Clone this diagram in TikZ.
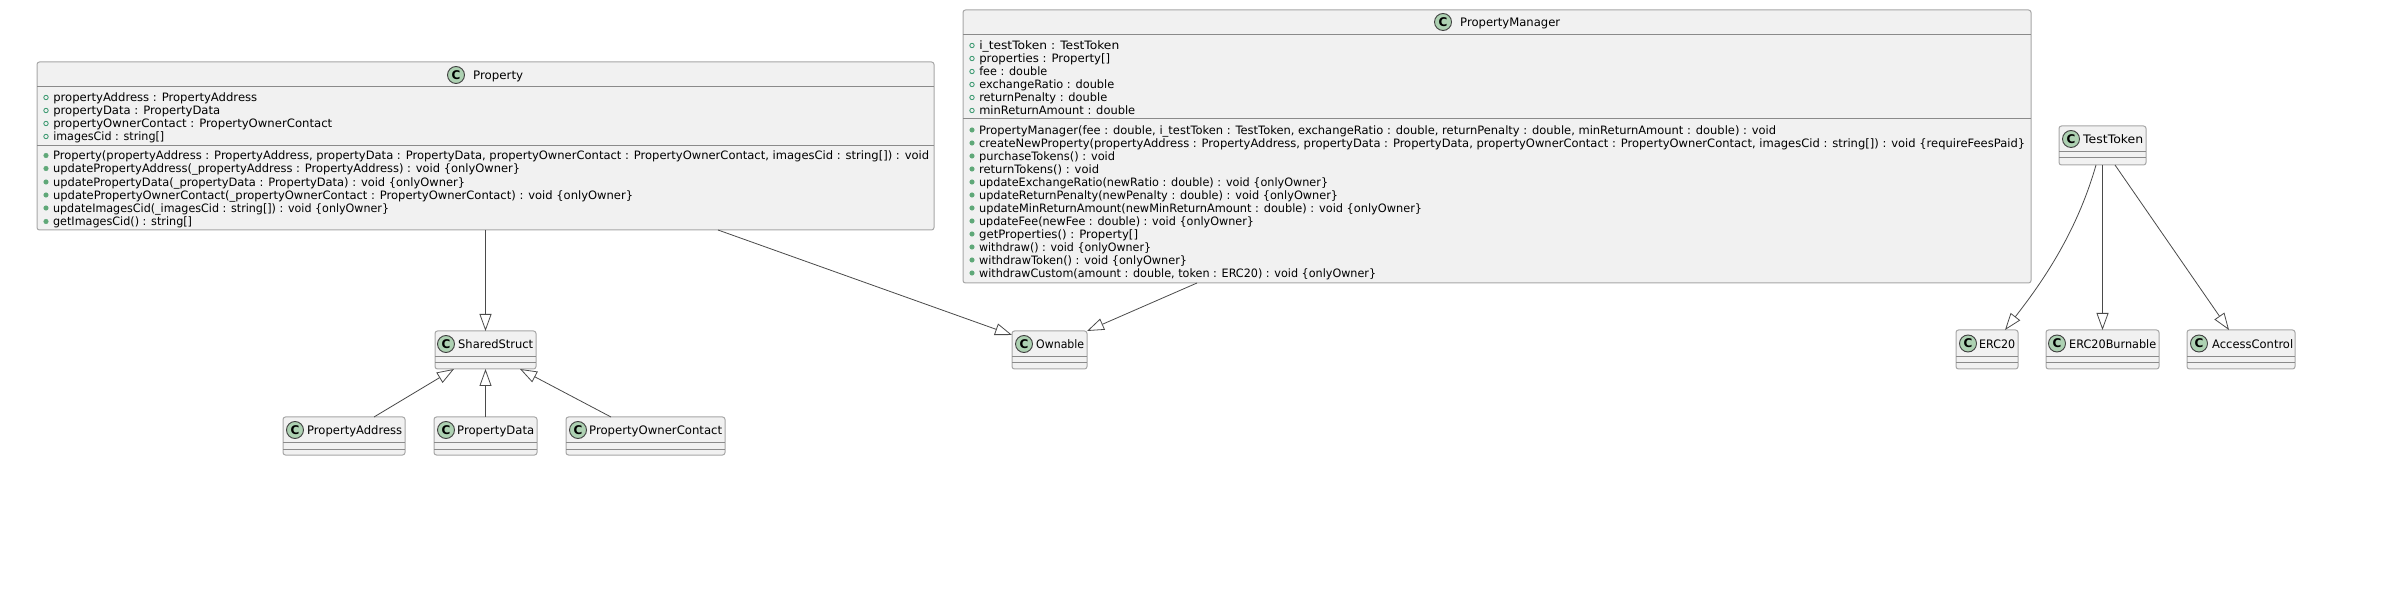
\documentclass[tikz,border=0pt]{standalone}
\usepackage{graphicx}
\usepackage{fontspec}
\setmainfont{DejaVu Sans}
\usetikzlibrary{arrows.meta}
\definecolor{boxfill}{HTML}{F1F1F1}
\definecolor{boxedge}{HTML}{A6A6A6}
\definecolor{sepedge}{HTML}{8A8A8A}
\definecolor{linkedge}{HTML}{4A4A4A}
\definecolor{iconfill}{HTML}{ADD1B2}
\definecolor{attrgreen}{HTML}{3E9A72}
\definecolor{opgreen}{HTML}{5FA878}
\newcommand\fitrow[2]{\resizebox{#1pt}{\height}{#2}}
\tikzset{
  classbox/.style={draw=boxedge, fill=boxfill, line width=1pt, rounded corners=2.5pt, inner sep=0pt, outer sep=0pt},
  sepline/.style={draw=sepedge, line width=1pt},
  classicon/.style={circle, draw=black!75, fill=iconfill, line width=0.9pt, minimum size=17pt, inner sep=0pt, font=\fontsize{12}{12}\selectfont\bfseries},
  classname/.style={anchor=base west, inner sep=0pt, yshift=-0.7pt, font=\fontsize{11.7}{13}\selectfont},
  member/.style={anchor=base west, inner sep=0pt, xshift=6.8pt, yshift=-4.2pt, font=\fontsize{11.55}{13}\selectfont},
  attrdot/.style={draw=attrgreen, line width=0.9pt, fill=none},
  opdot/.style={draw=opgreen, fill=opgreen, line width=0.6pt},
  inherit/.style={draw=linkedge, line width=0.8pt, -{Triangle[open, length=17pt, width=12pt]}},
}

\begin{document}
\begin{tikzpicture}[x=1pt, y=-1pt]
\useasboundingbox (0,0) rectangle (2394,593);
% boxes
\node[classbox, minimum width=897pt, minimum height=168pt] (Property) at (485.5,146) {};
\node[classbox, minimum width=1068pt, minimum height=273pt] (PropertyManager) at (1497,146.5) {};
\node[classbox, minimum width=87pt, minimum height=39pt] (TestToken) at (2102.5,145.5) {};
\node[classbox, minimum width=101pt, minimum height=38pt] (SharedStruct) at (485.5,350) {};
\node[classbox, minimum width=75pt, minimum height=38pt] (Ownable) at (1049.5,350) {};
\node[classbox, minimum width=62pt, minimum height=39pt] (ERC20) at (1987,349.5) {};
\node[classbox, minimum width=113pt, minimum height=39pt] (ERC20Burnable) at (2102.5,349.5) {};
\node[classbox, minimum width=108pt, minimum height=39pt] (AccessControl) at (2241,349.5) {};
\node[classbox, minimum width=122pt, minimum height=38pt] (PropertyAddress) at (344,436) {};
\node[classbox, minimum width=103pt, minimum height=38pt] (PropertyData) at (485.5,436) {};
\node[classbox, minimum width=159pt, minimum height=38pt] (PropertyOwnerContact) at (645.5,436) {};
% compartment lines
\draw[sepline] (37,87) -- (934,87);
\draw[sepline] (37,146) -- (934,146);
\draw[sepline] (963,35) -- (2031,35);
\draw[sepline] (963,119) -- (2031,119);
\draw[sepline] (2059,152) -- (2146,152);
\draw[sepline] (2059,158) -- (2146,158);
\draw[sepline] (435,357) -- (536,357);
\draw[sepline] (435,362.5) -- (536,362.5);
\draw[sepline] (1012,357) -- (1087,357);
\draw[sepline] (1012,362.5) -- (1087,362.5);
\draw[sepline] (1956,357) -- (2018,357);
\draw[sepline] (1956,362.5) -- (2018,362.5);
\draw[sepline] (2046,357) -- (2159,357);
\draw[sepline] (2046,362.5) -- (2159,362.5);
\draw[sepline] (2187,357) -- (2295,357);
\draw[sepline] (2187,362.5) -- (2295,362.5);
\draw[sepline] (283,443) -- (405,443);
\draw[sepline] (283,449) -- (405,449);
\draw[sepline] (434,443) -- (537,443);
\draw[sepline] (434,449) -- (537,449);
\draw[sepline] (566,443) -- (725,443);
\draw[sepline] (566,449) -- (725,449);
% class titles
\node[classicon] (iconProperty) at (456,75) {C};
\node[classname] (nameProperty) at (473,79) {\fitrow{50}{Property}};
\node[classicon] (iconManager) at (1443,22) {C};
\node[classname] (nameManager) at (1460,26) {\fitrow{100}{PropertyManager}};
\node[classicon] (iconToken) at (2071,139) {C};
\node[classname] (nameToken) at (2083,143) {\fitrow{60}{TestToken}};
\node[classicon] (iconShared) at (446,344) {C};
\node[classname] (nameShared) at (458,348) {\fitrow{75}{SharedStruct}};
\node[classicon] (iconOwnable) at (1024,344) {C};
\node[classname] (nameOwnable) at (1036,348) {\fitrow{48}{Ownable}};
\node[classicon] (iconERC) at (1968,343.5) {C};
\node[classname] (nameERC) at (1979,347.5) {\fitrow{36}{ERC20}};
\node[classicon] (iconBurnable) at (2057,343.5) {C};
\node[classname] (nameBurnable) at (2069,347.5) {\fitrow{87}{ERC20Burnable}};
\node[classicon] (iconAccess) at (2199,343.5) {C};
\node[classname] (nameAccess) at (2212,347.5) {\fitrow{81}{AccessControl}};
\node[classicon] (iconAddress) at (295,430) {C};
\node[classname] (nameAddress) at (307,434) {\fitrow{95}{PropertyAddress}};
\node[classicon] (iconData) at (446,430) {C};
\node[classname] (nameData) at (457,434) {\fitrow{77}{PropertyData}};
\node[classicon] (iconContact) at (578,430) {C};
\node[classname] (nameContact) at (589,434) {\fitrow{133}{PropertyOwnerContact}};
% Property members
\filldraw[attrdot] (46,97.5) circle (2.2) node[member] (pa1) {\fitrow{204}{propertyAddress : PropertyAddress}};
\filldraw[attrdot] (46,110.5) circle (2.2) node[member] (pa2) {\fitrow{167}{propertyData : PropertyData}};
\filldraw[attrdot] (46,123.5) circle (2.2) node[member] (pa3) {\fitrow{279}{propertyOwnerContact : PropertyOwnerContact}};
\filldraw[attrdot] (46,136.5) circle (2.2) node[member] (pa4) {\fitrow{111}{imagesCid : string[]}};
\filldraw[opdot] (46,155.5) circle (2.2) node[member] (po1) {\fitrow{876}{Property(propertyAddress : PropertyAddress, propertyData : PropertyData, propertyOwnerContact : PropertyOwnerContact, imagesCid : string[]) : void}};
\filldraw[opdot] (46,168.5) circle (2.2) node[member] (po2) {\fitrow{467}{updatePropertyAddress(\_propertyAddress : PropertyAddress) : void \{onlyOwner\}}};
\filldraw[opdot] (46,182) circle (2.2) node[member] (po3) {\fitrow{412}{updatePropertyData(\_propertyData : PropertyData) : void \{onlyOwner\}}};
\filldraw[opdot] (46,195) circle (2.2) node[member] (po4) {\fitrow{580}{updatePropertyOwnerContact(\_propertyOwnerContact : PropertyOwnerContact) : void \{onlyOwner\}}};
\filldraw[opdot] (46,208) circle (2.2) node[member] (po5) {\fitrow{336}{updateImagesCid(\_imagesCid : string[]) : void \{onlyOwner\}}};
\filldraw[opdot] (46,221.5) circle (2.2) node[member] (po6) {\fitrow{139}{getImagesCid() : string[]}};
% PropertyManager members
\filldraw[attrdot] (972,45.5) circle (2.2) node[member] (ma1) {\fitrow{140}{i\_testToken : TestToken}};
\filldraw[attrdot] (972,58.5) circle (2.2) node[member] (ma2) {\fitrow{131}{properties : Property[]}};
\filldraw[attrdot] (972,71.5) circle (2.2) node[member] (ma3) {\fitrow{68}{fee : double}};
\filldraw[attrdot] (972,84.5) circle (2.2) node[member] (ma4) {\fitrow{135}{exchangeRatio : double}};
\filldraw[attrdot] (972,97.5) circle (2.2) node[member] (ma5) {\fitrow{128}{returnPenalty : double}};
\filldraw[attrdot] (972,110.5) circle (2.2) node[member] (ma6) {\fitrow{156}{minReturnAmount : double}};
\filldraw[opdot] (972,130) circle (2.2) node[member] (mo1) {\fitrow{797}{PropertyManager(fee : double, i\_testToken : TestToken, exchangeRatio : double, returnPenalty : double, minReturnAmount : double) : void}};
\filldraw[opdot] (972,143) circle (2.2) node[member] (mo2) {\fitrow{1046}{createNewProperty(propertyAddress : PropertyAddress, propertyData : PropertyData, propertyOwnerContact : PropertyOwnerContact, imagesCid : string[]) : void \{requireFeesPaid\}}};
\filldraw[opdot] (972,156) circle (2.2) node[member] (mo3) {\fitrow{136}{purchaseTokens() : void}};
\filldraw[opdot] (972,169) circle (2.2) node[member] (mo4) {\fitrow{120}{returnTokens() : void}};
\filldraw[opdot] (972,182) circle (2.2) node[member] (mo5) {\fitrow{349}{updateExchangeRatio(newRatio : double) : void \{onlyOwner\}}};
\filldraw[opdot] (972,195) circle (2.2) node[member] (mo6) {\fitrow{359}{updateReturnPenalty(newPenalty : double) : void \{onlyOwner\}}};
\filldraw[opdot] (972,208) circle (2.2) node[member] (mo7) {\fitrow{443}{updateMinReturnAmount(newMinReturnAmount : double) : void \{onlyOwner\}}};
\filldraw[opdot] (972,221) circle (2.2) node[member] (mo8) {\fitrow{275}{updateFee(newFee : double) : void \{onlyOwner\}}};
\filldraw[opdot] (972,234) circle (2.2) node[member] (mo9) {\fitrow{159}{getProperties() : Property[]}};
\filldraw[opdot] (972,247) circle (2.2) node[member] (mo10) {\fitrow{172}{withdraw() : void \{onlyOwner\}}};
\filldraw[opdot] (972,260) circle (2.2) node[member] (mo11) {\fitrow{208}{withdrawToken() : void \{onlyOwner\}}};
\filldraw[opdot] (972,273) circle (2.2) node[member] (mo12) {\fitrow{397}{withdrawCustom(amount : double, token : ERC20) : void \{onlyOwner\}}};
% inheritance
\draw[inherit] (Property.south) -- (SharedStruct.north);
\draw[inherit] ([xshift=232.5pt]Property.south) -- ([yshift=-4pt]Ownable.north west);
\draw[inherit] ([xshift=-300pt]PropertyManager.south) -- (Ownable.north east);
\draw[inherit] ([xshift=30pt]PropertyAddress.north) -- ([xshift=-31.5pt]SharedStruct.south);
\draw[inherit] (PropertyData.north) -- (SharedStruct.south);
\draw[inherit] ([xshift=-34.5pt]PropertyOwnerContact.north) -- ([xshift=34.5pt]SharedStruct.south);
\draw[inherit] ([xshift=-6.5pt]TestToken.south) .. controls (2076,235) and (2040,285) .. ([xshift=18pt]ERC20.north);
\draw[inherit] (TestToken.south) -- (ERC20Burnable.north);
\draw[inherit] ([xshift=12.5pt]TestToken.south) -- ([xshift=-12pt]AccessControl.north);
\end{tikzpicture}
\end{document}
